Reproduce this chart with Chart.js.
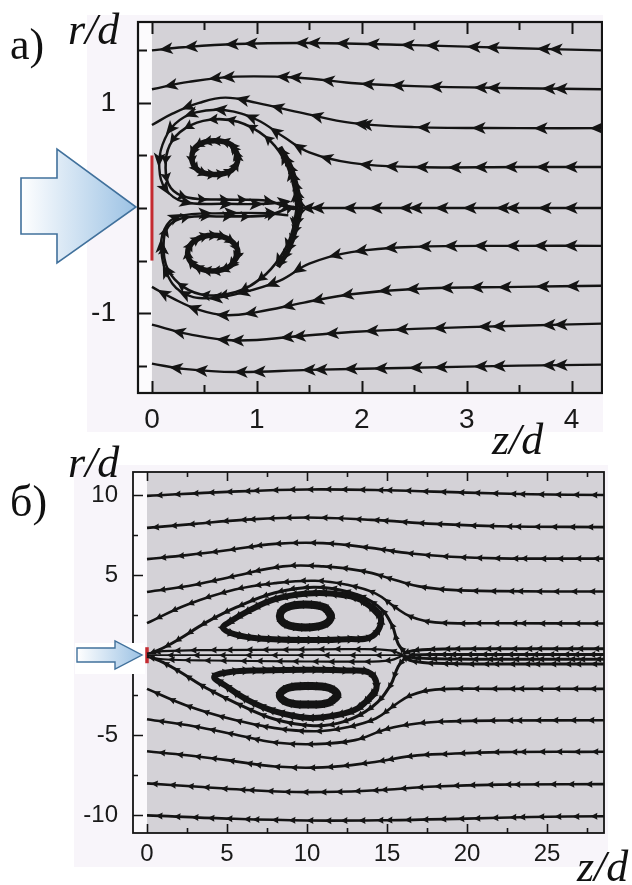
<!DOCTYPE html>
<html>
<head>
<meta charset="utf-8">
<script src="https://cdn.jsdelivr.net/npm/chart.js@4.4.0/dist/chart.umd.min.js"></script>
<style>
body{margin:0;width:632px;height:885px;background:#fff;position:relative;overflow:hidden}
canvas{position:absolute}
#chartA{left:87px;top:15px}
#chartB{left:74px;top:465px}
.lab{position:absolute;font-family:'Liberation Serif','DejaVu Serif',serif;font-size:44px;line-height:1;color:#111;white-space:nowrap;z-index:4}
.it{font-style:italic}
#overlay{position:absolute;left:0;top:0;z-index:3}
</style>
</head>
<body>
<canvas id="chartA" width="516" height="417"></canvas>
<canvas id="chartB" width="534" height="402"></canvas>

<svg id="overlay" width="632" height="885">
  <defs>
    <linearGradient id="gA" x1="21" y1="0" x2="136" y2="0" gradientUnits="userSpaceOnUse">
      <stop offset="0" stop-color="#ffffff"/>
      <stop offset="1" stop-color="#9cc2e4"/>
    </linearGradient>
    <linearGradient id="gB" x1="77" y1="0" x2="142" y2="0" gradientUnits="userSpaceOnUse">
      <stop offset="0" stop-color="#ffffff"/>
      <stop offset="1" stop-color="#9cc2e4"/>
    </linearGradient>
  </defs>
  <polygon points="21,178 57,178 57,149 136,207 57,263 57,234 21,234" fill="url(#gA)" stroke="#41719c" stroke-width="1.6"/>
  <rect x="75" y="643" width="70" height="31" fill="#ffffff"/>
  <polygon points="77,648 115,648 115,641 142,655 115,669 115,662 77,662" fill="url(#gB)" stroke="#41719c" stroke-width="1.4"/>
</svg>

<div class="lab" style="left:10px;top:23px">a)</div>
<div class="lab it" style="left:68px;top:8px">r/d</div>
<div class="lab it" style="left:492px;top:418px">z/d</div>
<div class="lab" style="left:10px;top:480px">б)</div>
<div class="lab it" style="left:68px;top:441px">r/d</div>
<div class="lab it" style="left:577px;top:845px">z/d</div>

<script>
// ---- panel a) : axes ----
const aTickLabelsX = [0, 1, 2, 3, 4];
const aTickLabelsY = [-1, 1];
const aTicksX = [0, 0.5, 1, 1.5, 2, 2.5, 3, 3.5, 4];
const aTicksY = [-1.5, -1, -0.5, 0, 0.5, 1, 1.5];

// ---- panel a) : streamlines, [z/d, r/d], in flow order ----
const aLine1 = [[4.29,1.50],[3.5,1.52],[2.5,1.55],[1.5,1.57],[0.8,1.56],[0.3,1.53],[0,1.50]];
const aLine2 = [[4.29,1.13],[3.5,1.14],[2.5,1.16],[1.9,1.19],[1.4,1.24],[0.8,1.25],[0.35,1.2],[0,1.13]];
const aLine3 = [[4.29,0.76],[3.5,0.76],[2.5,0.77],[1.9,0.81],[1.45,0.9],[1.0,1.0],[0.7,1.05],[0.45,1.0],[0.2,0.9],[0,0.79]];
const aLine4 = [[4.29,0.39],[3.5,0.39],[2.5,0.39],[1.9,0.43],[1.5,0.53],[1.25,0.68],[1.0,0.84],[0.7,0.93],[0.42,0.91],[0.22,0.8],[0.1,0.6],[0.07,0.38],[0.13,0.18],[0.3,0.06],[0.7,0.04],[1.1,0.04],[1.3,0.06]];
const aAxis  = [[4.29,0],[3,0],[2,0],[1.6,0],[1.4,0]];
const aLine5 = [[4.29,-0.36],[3.5,-0.36],[2.5,-0.37],[1.9,-0.42],[1.5,-0.53],[1.22,-0.69],[0.84,-0.81],[0.52,-0.86],[0.28,-0.8],[0.14,-0.62],[0.09,-0.4],[0.12,-0.2],[0.25,-0.08],[0.7,-0.05],[1.1,-0.05],[1.3,-0.07]];
const aLine6 = [[4.29,-0.74],[3.5,-0.75],[2.5,-0.77],[1.9,-0.82],[1.45,-0.9],[1.0,-0.99],[0.7,-1.02],[0.45,-0.97],[0.2,-0.86],[0,-0.75]];
const aLine7 = [[4.29,-1.1],[3.5,-1.12],[2.5,-1.15],[1.9,-1.18],[1.4,-1.22],[0.8,-1.26],[0.35,-1.2],[0,-1.11]];
const aLine8 = [[4.29,-1.49],[3.5,-1.5],[2.5,-1.52],[1.5,-1.54],[0.8,-1.56],[0.3,-1.53],[0,-1.48]];
const aLoopUp   = [[1.38,0.0],[1.34,0.25],[1.25,0.48],[1.08,0.68],[0.82,0.82],[0.55,0.84],[0.32,0.76],[0.17,0.6],[0.13,0.38],[0.18,0.19],[0.34,0.1],[0.7,0.08],[1.1,0.07],[1.38,0.0],[1.34,0.25]];
const aLoopDown = [[1.38,0.0],[1.33,-0.25],[1.22,-0.47],[1.05,-0.66],[0.8,-0.8],[0.52,-0.83],[0.3,-0.75],[0.15,-0.58],[0.11,-0.36],[0.16,-0.17],[0.32,-0.09],[0.7,-0.08],[1.1,-0.07],[1.38,0.0],[1.33,-0.25]];
const aRingUp   = [[0.82,0.48],[0.76,0.6],[0.6,0.64],[0.44,0.6],[0.38,0.48],[0.44,0.36],[0.6,0.32],[0.76,0.36],[0.82,0.48],[0.76,0.6]];
const aRingDown = [[0.82,-0.43],[0.75,-0.55],[0.58,-0.6],[0.41,-0.55],[0.34,-0.43],[0.41,-0.31],[0.58,-0.26],[0.75,-0.31],[0.82,-0.43],[0.75,-0.55]];
const aBandUp   = [[1.42,0],[1.38,0.2],[1.32,0.4],[1.22,0.58]];
const aBandDown = [[1.42,0],[1.37,-0.2],[1.3,-0.4],[1.2,-0.56]];
const aNozzle   = [[0,-0.5],[0,0.5]];

// ---- panel б) : axes ----
const bTickLabelsX = [0, 5, 10, 15, 20, 25];
const bTickLabelsY = [-10, -5, 5, 10];
const bTicksX = [0, 2.5, 5, 7.5, 10, 12.5, 15, 17.5, 20, 22.5, 25, 27.5];
const bTicksY = [-10, -7.5, -5, -2.5, 0, 2.5, 5, 7.5, 10];

// ---- panel б) : streamlines ----
const bL10 = [[28.6,10.0],[24,10.05],[20,10.15],[15,10.3],[10,10.35],[5,10.2],[0,9.95]];
const bL8  = [[28.6,8.0],[22,8.05],[18,8.2],[14,8.45],[10,8.6],[6,8.45],[3,8.2],[0,7.95]];
const bL6  = [[28.6,6.03],[22,6.05],[19,6.15],[16.5,6.35],[14,6.7],[11,7.0],[8,6.95],[5,6.55],[2.5,6.25],[0,6.0]];
const bL4  = [[28.6,3.98],[22,4.0],[19,4.08],[17,4.3],[15.5,4.7],[13.5,5.25],[11,5.55],[8.5,5.55],[5.5,4.95],[3,4.4],[0,3.95]];
const bL2  = [[28.6,1.98],[22,2.0],[18,2.05],[16.5,2.4],[15.5,3.0],[14.3,3.85],[12.5,4.4],[10.5,4.65],[8,4.5],[5.5,4.1],[2.5,3.15],[0,2.0]];
const bLm2  = [[28.6,-2.1],[22,-2.1],[18,-2.15],[16.5,-2.5],[15.5,-3.1],[14.3,-3.95],[12.5,-4.5],[10.5,-4.75],[8,-4.55],[5.5,-4.05],[2.5,-3.15],[0,-2.1]];
const bLm4  = [[28.6,-4.06],[22,-4.08],[19,-4.13],[17,-4.25],[15,-4.6],[13,-5.3],[10.5,-5.55],[8,-5.45],[5.5,-4.95],[3,-4.45],[0,-4.0]];
const bLm6  = [[28.6,-6.03],[22,-6.05],[19,-6.15],[16.5,-6.3],[14,-6.7],[11,-7.0],[8,-6.95],[5,-6.55],[2.5,-6.25],[0,-6.0]];
const bLm8  = [[28.6,-8.05],[22,-8.08],[18,-8.2],[14,-8.45],[10,-8.55],[6,-8.4],[3,-8.2],[0,-8.0]];
const bLm10 = [[28.6,-10.05],[24,-10.1],[20,-10.2],[15,-10.3],[10,-10.32],[5,-10.2],[0,-10.0]];
const bSepUp   = [[16.2,0.1],[15.7,0.7],[15.3,1.9],[14.4,3.1],[12.6,3.95],[10.4,4.25],[8,3.9],[5.6,3.0],[3.7,2.05],[2,1.0],[1.0,0.45],[0.3,0.15]];
const bSepDown = [[16.2,-0.1],[15.7,-0.7],[15.2,-1.9],[14.1,-3.2],[12.3,-4.15],[10.4,-4.4],[8,-4.0],[5.6,-3.0],[3.7,-2.05],[2,-1.0],[1.0,-0.45],[0.3,-0.15]];
const bLoopUp   = [[14.6,2.4],[13.4,3.45],[11.5,3.85],[10,3.85],[8,3.5],[6.4,2.8],[5.2,2.1],[4.75,1.7],[5.5,1.3],[7,1.05],[10,0.95],[12.5,1.0],[14.1,1.2],[14.6,2.4],[13.4,3.45]];
const bLoopDown = [[14.3,-2.2],[13.2,-3.3],[11.5,-3.8],[10,-3.9],[8,-3.5],[6.3,-2.8],[4.9,-1.9],[4.2,-1.35],[5.2,-1.05],[7,-0.95],[10,-0.9],[12.5,-0.95],[14,-1.15],[14.3,-2.2],[13.2,-3.3]];
const bRingUp   = [[11.5,2.45],[11.1,2.98],[9.9,3.17],[8.7,2.98],[8.3,2.45],[8.7,1.92],[9.9,1.73],[11.1,1.92],[11.5,2.45],[11.1,2.98]];
const bRingDown = [[11.9,-2.5],[11.4,-2.95],[10.1,-3.08],[8.8,-2.95],[8.3,-2.5],[8.8,-2.05],[10.1,-1.92],[11.4,-2.05],[11.9,-2.5],[11.4,-2.95]];
const bJet1 = [[28.6,0.4],[22,0.4],[18,0.38],[16.6,0.28],[16,0.08]];
const bJet2 = [[28.6,0.05],[22,0.05],[18,0.04],[16.4,0.02]];
const bJet3 = [[28.6,-0.25],[22,-0.25],[18,-0.22],[16.6,-0.15],[16,-0.04]];
const bJet4 = [[28.6,-0.55],[22,-0.55],[18,-0.5],[16.6,-0.36],[16,-0.1]];
const bCore1 = [[16,0.02],[15.2,0.3],[13,0.38],[9,0.35],[4,0.32],[1,0.25],[0,0.1]];
const bCore2 = [[16,-0.02],[15.2,-0.32],[13,-0.4],[9,-0.38],[4,-0.33],[1,-0.25],[0,-0.1]];
const bCore3 = [[16,0],[10,0],[4,0],[0,0]];
const bNozzle = [[0,-0.5],[0,0.5]];

const ink = '#141414';

function stream(arr, width, start, gaps, size, extra) {
    return Object.assign({
        data: arr.map(([x, y]) => ({x, y})),
        showLine: true,
        pointRadius: 0,
        pointHoverRadius: 0,
        borderColor: ink,
        borderWidth: width,
        tension: 0.4,
        fill: false,
        arrowStart: start,
        arrowGaps: gaps,
        arrowSize: size
    }, extra || {});
}

// background, white strip, grey field, inward ticks and frame
const sheetPlugin = {
    id: 'sheet',
    beforeDraw(chart, args, o) {
        const {ctx, chartArea: a, scales: {x}} = chart;
        ctx.save();
        ctx.fillStyle = o.paper;
        ctx.fillRect(0, 0, chart.width, chart.height);
        ctx.fillStyle = o.strip;
        ctx.fillRect(a.left, a.top, a.right - a.left, a.bottom - a.top);
        const gx = x.getPixelForValue(0);
        ctx.fillStyle = o.gray;
        ctx.fillRect(gx, a.top, a.right - gx, a.bottom - a.top);
        ctx.restore();
    },
    afterDraw(chart, args, o) {
        const {ctx, chartArea: a, scales: {x, y}} = chart;
        ctx.save();
        ctx.strokeStyle = ink;
        ctx.lineWidth = o.tickWidth;
        ctx.beginPath();
        o.ticksX.forEach(v => {
            const px = Math.round(x.getPixelForValue(v)) + 0.5;
            const len = o.majorX.includes(v) ? o.longX : o.shortX;
            ctx.moveTo(px, a.bottom); ctx.lineTo(px, a.bottom - len);
            ctx.moveTo(px, a.top); ctx.lineTo(px, a.top + len);
        });
        o.ticksY.forEach(v => {
            const py = Math.round(y.getPixelForValue(v)) + 0.5;
            const len = o.majorY.includes(v) ? o.longY : o.shortY;
            ctx.moveTo(a.left, py); ctx.lineTo(a.left + len, py);
        });
        ctx.stroke();
        ctx.lineWidth = o.frameWidth;
        ctx.strokeRect(a.left, a.top, a.right - a.left, a.bottom - a.top);
        ctx.restore();
    }
};

// arrow heads placed along each drawn (bezier) streamline
const arrowPlugin = {
    id: 'arrows',
    afterDatasetsDraw(chart) {
        const ctx = chart.ctx, a = chart.chartArea;
        ctx.save();
        ctx.beginPath();
        ctx.rect(a.left, a.top, a.right - a.left, a.bottom - a.top);
        ctx.clip();
        ctx.fillStyle = ink;
        chart.data.datasets.forEach((ds, i) => {
            if (!ds.arrowGaps) return;
            const pts = chart.getDatasetMeta(i).data;
            const path = [];
            for (let k = 0; k < pts.length - 1; k++) {
                const p = pts[k], q = pts[k + 1];
                const c1x = p.cp2x !== undefined ? p.cp2x : p.x;
                const c1y = p.cp2y !== undefined ? p.cp2y : p.y;
                const c2x = q.cp1x !== undefined ? q.cp1x : q.x;
                const c2y = q.cp1y !== undefined ? q.cp1y : q.y;
                for (let s = 0; s < 16; s++) {
                    const t = s / 16, u = 1 - t;
                    path.push([
                        u*u*u*p.x + 3*u*u*t*c1x + 3*u*t*t*c2x + t*t*t*q.x,
                        u*u*u*p.y + 3*u*u*t*c1y + 3*u*t*t*c2y + t*t*t*q.y
                    ]);
                }
            }
            const last = pts[pts.length - 1];
            path.push([last.x, last.y]);

            const size = ds.arrowSize;
            let next = ds.arrowStart, gi = 0, acc = 0;
            for (let k = 0; k < path.length - 1; k++) {
                const dx = path[k + 1][0] - path[k][0];
                const dy = path[k + 1][1] - path[k][1];
                const len = Math.hypot(dx, dy);
                if (len === 0) continue;
                while (acc + len >= next) {
                    const f = (next - acc) / len;
                    const cx = path[k][0] + dx * f, cy = path[k][1] + dy * f;
                    const ux = dx / len, uy = dy / len;
                    const nx = -uy, ny = ux;
                    const tipX = cx + ux * size.len * 0.6, tipY = cy + uy * size.len * 0.6;
                    const bx = cx - ux * size.len * 0.4, by = cy - uy * size.len * 0.4;
                    ctx.beginPath();
                    ctx.moveTo(tipX, tipY);
                    ctx.lineTo(bx + nx * size.hw, by + ny * size.hw);
                    ctx.lineTo(bx + ux * size.len * size.notch, by + uy * size.len * size.notch);
                    ctx.lineTo(bx - nx * size.hw, by - ny * size.hw);
                    ctx.closePath();
                    ctx.fill();
                    next += ds.arrowGaps[gi % ds.arrowGaps.length];
                    gi++;
                }
                acc += len;
            }
        });
        ctx.restore();
    }
};

function axes(cfg) {
    const tickFont = {family: "'Liberation Sans', Arial, sans-serif", size: cfg.fontSize};
    return {
        x: {
            type: 'linear', min: cfg.xmin, max: cfg.xmax,
            grid: {display: false, drawTicks: false},
            border: {display: false},
            afterBuildTicks: s => { s.ticks = cfg.labelsX.map(v => ({value: v})); },
            afterFit: s => { s.height = cfg.xHeight; s.paddingLeft = 0; s.paddingRight = 0; },
            ticks: {padding: cfg.xPad, font: tickFont, color: '#1a1a1a', autoSkip: false, maxRotation: 0, callback: v => String(v)}
        },
        y: {
            type: 'linear', min: cfg.ymin, max: cfg.ymax,
            grid: {display: false, drawTicks: false},
            border: {display: false},
            afterBuildTicks: s => { s.ticks = cfg.labelsY.map(v => ({value: v})); },
            afterFit: s => { s.width = cfg.yWidth; s.paddingTop = 0; s.paddingBottom = 0; },
            ticks: {padding: cfg.yPad, font: tickFont, color: '#1a1a1a', autoSkip: false, callback: v => String(v)}
        }
    };
}

// ---------------- panel a) ----------------
const bigHead = {len: 14, hw: 6, notch: 0.25};
const ringHead = {len: 10, hw: 5.5, notch: 0.2};

new Chart(document.getElementById('chartA'), {
    type: 'scatter',
    data: {
        datasets: [
            stream(aLine1, 2.4, 45, [12, 51, 19, 41, 25, 35, 30, 29], bigHead),
            stream(aLine2, 2.4, 40, [12, 55, 13, 45, 38, 30, 40, 33], bigHead),
            stream(aLine3, 2.4, 4, [56, 62, 55, 58, 5, 45, 40, 36], bigHead),
            stream(aLine4, 2.4, 30, [28, 32, 30, 26, 33, 30, 26, 40, 30, 28], bigHead),
            stream(aAxis, 2.4, 30, [26, 32, 10, 33, 28, 26, 10, 30], bigHead),
            stream(aLine5, 2.4, 30, [30, 28, 32, 30, 26, 34, 30, 26, 40, 30], bigHead),
            stream(aLine6, 2.4, 28, [30, 38, 28, 30, 34, 28, 38, 30], bigHead),
            stream(aLine7, 2.4, 40, [12, 50, 14, 45, 38, 30, 40, 33], bigHead),
            stream(aLine8, 2.4, 40, [12, 50, 18, 40, 25, 35, 30, 30], bigHead),
            stream(aLoopUp, 2.6, 10, [22, 18, 26, 20], ringHead),
            stream(aLoopDown, 2.6, 14, [22, 18, 26, 20], ringHead),
            stream(aBandUp, 5, 4, [9], ringHead),
            stream(aBandDown, 5, 4, [9], ringHead),
            stream(aRingUp, 5.5, 3, [9], ringHead),
            stream(aRingDown, 5.5, 3, [9], ringHead),
            {
                data: aNozzle.map(([x, y]) => ({x, y})),
                showLine: true, pointRadius: 0, borderColor: '#c42a30', borderWidth: 3
            }
        ]
    },
    options: {
        responsive: false,
        animation: false,
        events: [],
        layout: {padding: {top: 7, right: 1, left: 0, bottom: 0}},
        plugins: {
            legend: {display: false},
            tooltip: {enabled: false},
            sheet: {
                paper: '#f8f5fa', strip: '#fcfbfd', gray: '#d4d2d7',
                ticksX: aTicksX, ticksY: aTicksY, majorX: aTickLabelsX, majorY: aTickLabelsY,
                longX: 12, shortX: 8, longY: 13, shortY: 9, tickWidth: 2, frameWidth: 2.2
            }
        },
        scales: axes({
            xmin: -0.133, xmax: 4.29, ymin: -1.76, ymax: 1.77,
            labelsX: aTickLabelsX, labelsY: aTickLabelsY,
            fontSize: 28, xHeight: 39, yWidth: 51, xPad: 10, yPad: 22
        })
    },
    plugins: [sheetPlugin, arrowPlugin]
});

// ---------------- panel б) ----------------
const smallHead = {len: 7, hw: 3.5, notch: 0.1};
const bandHead = {len: 8, hw: 4.5, notch: 0.1};
const lineGaps = [18, 18, 17, 19, 9, 18, 18, 16];

new Chart(document.getElementById('chartB'), {
    type: 'scatter',
    data: {
        datasets: [
            stream(bL10, 2.6, 10, lineGaps, smallHead),
            stream(bL8, 2.6, 14, lineGaps, smallHead),
            stream(bL6, 2.6, 8, lineGaps, smallHead),
            stream(bL4, 2.6, 12, lineGaps, smallHead),
            stream(bL2, 2.6, 9, lineGaps, smallHead),
            stream(bLm2, 2.6, 11, lineGaps, smallHead),
            stream(bLm4, 2.6, 13, lineGaps, smallHead),
            stream(bLm6, 2.6, 9, lineGaps, smallHead),
            stream(bLm8, 2.6, 15, lineGaps, smallHead),
            stream(bLm10, 2.6, 10, lineGaps, smallHead),
            stream(bSepUp, 3, 6, [14, 12, 16], smallHead),
            stream(bSepDown, 3, 8, [14, 12, 16], smallHead),
            stream(bJet1, 3, 8, [16, 10, 15], smallHead),
            stream(bJet2, 3, 12, [16, 10, 15], smallHead),
            stream(bJet3, 3, 6, [16, 10, 15], smallHead),
            stream(bJet4, 3, 10, [16, 10, 15], smallHead),
            stream(bCore1, 2.2, 10, [20, 16], smallHead),
            stream(bCore2, 2.2, 16, [20, 16], smallHead),
            stream(bCore3, 1.8, 24, [26], smallHead),
            stream(bLoopUp, 6, 4, [10], bandHead),
            stream(bLoopDown, 6, 4, [10], bandHead),
            stream(bRingUp, 8, 3, [8], bandHead),
            stream(bRingDown, 8, 3, [8], bandHead),
            {
                data: bNozzle.map(([x, y]) => ({x, y})),
                showLine: true, pointRadius: 0, borderColor: '#c42a30', borderWidth: 3.5
            }
        ]
    },
    options: {
        responsive: false,
        animation: false,
        events: [],
        layout: {padding: {top: 7, right: 4, left: 0, bottom: 0}},
        plugins: {
            legend: {display: false},
            tooltip: {enabled: false},
            sheet: {
                paper: '#f8f5fa', strip: '#fbf9fc', gray: '#d4d2d7',
                ticksX: bTicksX, ticksY: bTicksY, majorX: bTickLabelsX, majorY: bTickLabelsY,
                longX: 9, shortX: 5, longY: 10, shortY: 5, tickWidth: 1.6, frameWidth: 1.8
            }
        },
        scales: axes({
            xmin: -0.875, xmax: 28.56, ymin: -11.1, ymax: 11.44,
            labelsX: bTickLabelsX, labelsY: bTickLabelsY,
            fontSize: 24, xHeight: 34, yWidth: 59, xPad: 7, yPad: 15
        })
    },
    plugins: [sheetPlugin, arrowPlugin]
});
</script>
</body>
</html>
